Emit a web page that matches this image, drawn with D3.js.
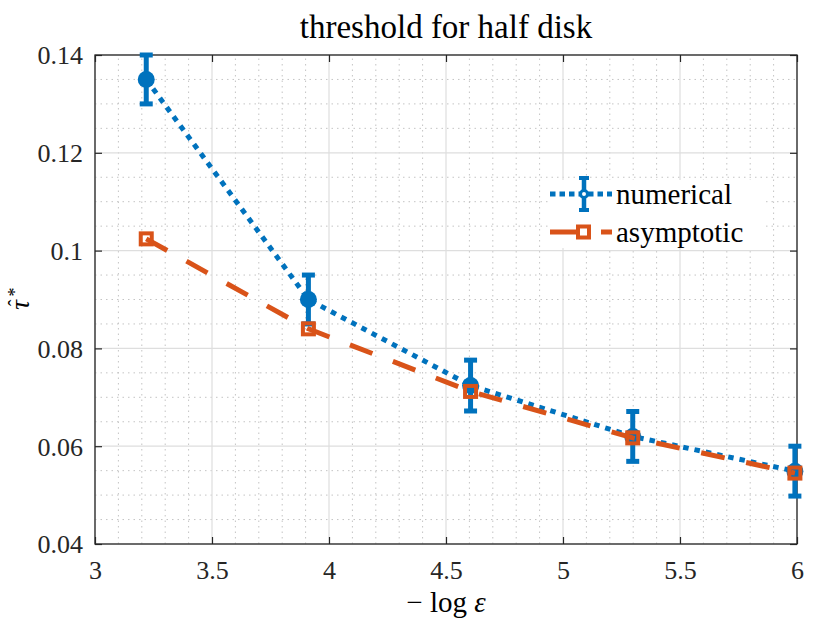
<!DOCTYPE html>
<html>
<head>
<meta charset="utf-8">
<script src="https://cdn.jsdelivr.net/npm/d3@7"></script>
<style>
  html, body { margin: 0; padding: 0; background: #fff; }
  svg { display: block; }
  svg text { font-family: "Liberation Serif", "Times New Roman", serif; }
</style>
</head>
<body>
<div id="chart"></div>
<script>
// values
const xValues = [3.219, 3.912, 4.605, 5.298, 5.991];        // -log(eps)
const numerical = [0.135, 0.090, 0.0724, 0.062, 0.0549];
const numericalErr = [0.005, 0.005, 0.0052, 0.0051, 0.0051];
const asymptotic = [0.1024, 0.084, 0.0712, 0.0617, 0.0545];

const xTicks = [3, 3.5, 4, 4.5, 5, 5.5, 6];
const xTickLabels = ["3", "3.5", "4", "4.5", "5", "5.5", "6"];
const yTicks = [0.04, 0.06, 0.08, 0.1, 0.12, 0.14];
const yTickLabels = ["0.04", "0.06", "0.08", "0.1", "0.12", "0.14"];
const seriesNames = ["numerical", "asymptotic"];

const width = 830;
const height = 624;
const margin = {top: 55, right: 33, bottom: 80, left: 95};

const blue = "#0072BD";
const orange = "#D95319";
const axisColor = "#262626";
const serif = "Liberation Serif, Times New Roman, serif";

const svg = d3.select("#chart")
    .append("svg")
    .attr("width", width)
    .attr("height", height)
    .attr("font-family", serif);

const x = d3.scaleLinear()
    .domain([3, 6])
    .range([margin.left, width - margin.right]);

const y = d3.scaleLinear()
    .domain([0.04, 0.14])
    .range([height - margin.bottom, margin.top]);

const x0 = x.range()[0], x1 = x.range()[1];
const y0 = y.range()[0], y1 = y.range()[1];

// minor grid (dotted)
const grid = svg.append("g");
grid.selectAll(".xminor")
    .data(x.ticks(30).filter(v => !xTicks.some(t => Math.abs(t - v) < 1e-9)))
    .join("line")
    .attr("x1", d => x(d)).attr("x2", d => x(d))
    .attr("y1", y0).attr("y2", y1)
    .attr("stroke", "#c4c4c4")
    .attr("stroke-width", 1)
    .attr("stroke-dasharray", "1.5,4");
grid.selectAll(".yminor")
    .data(y.ticks(20).filter(v => !yTicks.some(t => Math.abs(t - v) < 1e-9)))
    .join("line")
    .attr("x1", x0).attr("x2", x1)
    .attr("y1", d => y(d)).attr("y2", d => y(d))
    .attr("stroke", "#c4c4c4")
    .attr("stroke-width", 1)
    .attr("stroke-dasharray", "1.5,4");

// major grid
grid.selectAll(".xmajor")
    .data(xTicks)
    .join("line")
    .attr("x1", d => x(d)).attr("x2", d => x(d))
    .attr("y1", y0).attr("y2", y1)
    .attr("stroke", "#dedede")
    .attr("stroke-width", 1.2);
grid.selectAll(".ymajor")
    .data(yTicks)
    .join("line")
    .attr("x1", x0).attr("x2", x1)
    .attr("y1", d => y(d)).attr("y2", d => y(d))
    .attr("stroke", "#dedede")
    .attr("stroke-width", 1.2);

// axes
const xAxis = svg.append("g")
    .attr("transform", `translate(0,${y0})`)
    .call(d3.axisBottom(x).tickValues(xTicks)
        .tickFormat((d, i) => xTickLabels[i])
        .tickSize(-7).tickSizeOuter(0).tickPadding(17));

const yAxis = svg.append("g")
    .attr("transform", `translate(${x0},0)`)
    .call(d3.axisLeft(y).tickValues(yTicks)
        .tickFormat((d, i) => yTickLabels[i])
        .tickSize(-7).tickSizeOuter(0).tickPadding(12));

const topAxis = svg.append("g")
    .attr("transform", `translate(0,${y1})`)
    .call(d3.axisTop(x).tickValues(xTicks).tickFormat("").tickSize(-7).tickSizeOuter(0));

const rightAxis = svg.append("g")
    .attr("transform", `translate(${x1},0)`)
    .call(d3.axisRight(y).tickValues(yTicks).tickFormat("").tickSize(-7).tickSizeOuter(0));

[xAxis, yAxis, topAxis, rightAxis].forEach(g => {
    g.attr("font-family", serif).attr("font-size", 26);
    g.select(".domain").remove();
    g.selectAll(".tick line").attr("stroke", axisColor).attr("stroke-width", 1.2);
    g.selectAll(".tick text").attr("fill", axisColor);
});
yAxis.selectAll(".tick text").attr("dy", "0.34em");

svg.append("rect")
    .attr("x", x0).attr("y", y1)
    .attr("width", x1 - x0).attr("height", y0 - y1)
    .attr("fill", "none")
    .attr("stroke", axisColor)
    .attr("stroke-width", 1.3);

// data
const pts = xValues.map((v, i) => ({x: v, num: numerical[i], err: numericalErr[i], asy: asymptotic[i]}));

const line = d3.line().x(d => x(d[0])).y(d => y(d[1]));

const numG = svg.append("g");
numG.append("path")
    .attr("d", line(pts.map(d => [d.x, d.num])))
    .attr("fill", "none")
    .attr("stroke", blue)
    .attr("stroke-width", 5)
    .attr("stroke-dasharray", "5.5,6");

const bars = numG.selectAll(".err")
    .data(pts)
    .join("g")
    .attr("stroke", blue)
    .attr("stroke-width", 5);
bars.append("line")
    .attr("x1", d => x(d.x)).attr("x2", d => x(d.x))
    .attr("y1", d => y(d.num - d.err)).attr("y2", d => y(d.num + d.err));
bars.append("line")
    .attr("x1", d => x(d.x) - 6.5).attr("x2", d => x(d.x) + 6.5)
    .attr("y1", d => y(d.num + d.err)).attr("y2", d => y(d.num + d.err));
bars.append("line")
    .attr("x1", d => x(d.x) - 6.5).attr("x2", d => x(d.x) + 6.5)
    .attr("y1", d => y(d.num - d.err)).attr("y2", d => y(d.num - d.err));
numG.selectAll("circle")
    .data(pts)
    .join("circle")
    .attr("cx", d => x(d.x))
    .attr("cy", d => y(d.num))
    .attr("r", 8.5)
    .attr("fill", blue);

const asyG = svg.append("g");
asyG.append("path")
    .attr("d", line(pts.map(d => [d.x, d.asy])))
    .attr("fill", "none")
    .attr("stroke", orange)
    .attr("stroke-width", 5)
    .attr("stroke-dasharray", "24,22");
asyG.selectAll("rect")
    .data(pts)
    .join("rect")
    .attr("x", d => x(d.x) - 5.5)
    .attr("y", d => y(d.asy) - 5.5)
    .attr("width", 11)
    .attr("height", 11)
    .attr("fill", "none")
    .attr("stroke", orange)
    .attr("stroke-width", 4);

// legend
const legend = svg.append("g").attr("transform", "translate(548,180)");
legend.append("rect")
    .attr("width", 218).attr("height", 68)
    .attr("fill", "#fff");

const lg1 = legend.append("g").attr("transform", "translate(0,14)");
lg1.append("line")
    .attr("x1", 2).attr("x2", 64)
    .attr("stroke", blue).attr("stroke-width", 5)
    .attr("stroke-dasharray", "5.5,4");
lg1.append("line")
    .attr("x1", 36).attr("x2", 36).attr("y1", -16).attr("y2", 16)
    .attr("stroke", blue).attr("stroke-width", 4.5);
lg1.selectAll(".cap")
    .data([-16, 16])
    .join("line")
    .attr("x1", 31).attr("x2", 41)
    .attr("y1", d => d).attr("y2", d => d)
    .attr("stroke", blue).attr("stroke-width", 4);
lg1.append("circle")
    .attr("cx", 36).attr("r", 3.5)
    .attr("fill", "#fff")
    .attr("stroke", blue).attr("stroke-width", 3);
lg1.append("text")
    .attr("x", 68).attr("dy", "0.33em")
    .attr("font-family", serif)
    .attr("font-size", 29)
    .attr("fill", "#000")
    .text(seriesNames[0]);

const lg2 = legend.append("g").attr("transform", "translate(0,52)");
lg2.append("line")
    .attr("x1", 2).attr("x2", 64)
    .attr("stroke", orange).attr("stroke-width", 5)
    .attr("stroke-dasharray", "40,11");
lg2.append("rect")
    .attr("x", 30).attr("y", -5.5)
    .attr("width", 11).attr("height", 11)
    .attr("fill", "#fff")
    .attr("stroke", orange).attr("stroke-width", 4);
lg2.append("text")
    .attr("x", 68).attr("dy", "0.33em")
    .attr("font-family", serif)
    .attr("font-size", 29)
    .attr("fill", "#000")
    .text(seriesNames[1]);

// title and labels
svg.append("text")
    .attr("x", (x0 + x1) / 2)
    .attr("y", 38)
    .attr("text-anchor", "middle")
    .attr("font-family", serif)
    .attr("font-size", 33)
    .attr("fill", "#000")
    .text("threshold for half disk");

const xl = svg.append("text")
    .attr("x", (x0 + x1) / 2)
    .attr("y", 612)
    .attr("text-anchor", "middle")
    .attr("font-family", serif)
    .attr("font-size", 29)
    .attr("fill", "#000");
xl.append("tspan").text("\u2212 log ");
xl.append("tspan").attr("font-style", "italic").text("\u03b5");

// y label: tau-hat with star superscript, rotated
const yl = svg.append("g")
    .attr("transform", "translate(29,305) rotate(-90)")
    .attr("font-family", serif)
    .attr("fill", "#000");
yl.append("text")
    .attr("x", 0)
    .attr("text-anchor", "middle")
    .attr("font-size", 27)
    .attr("font-style", "italic")
    .text("\u03c4");
yl.append("text")
    .attr("x", 2).attr("y", -6)
    .attr("text-anchor", "middle")
    .attr("font-size", 20)
    .text("\u02c6");
yl.append("text")
    .attr("x", 13).attr("y", -8)
    .attr("text-anchor", "middle")
    .attr("font-size", 18)
    .text("*");
</script>
</body>
</html>
